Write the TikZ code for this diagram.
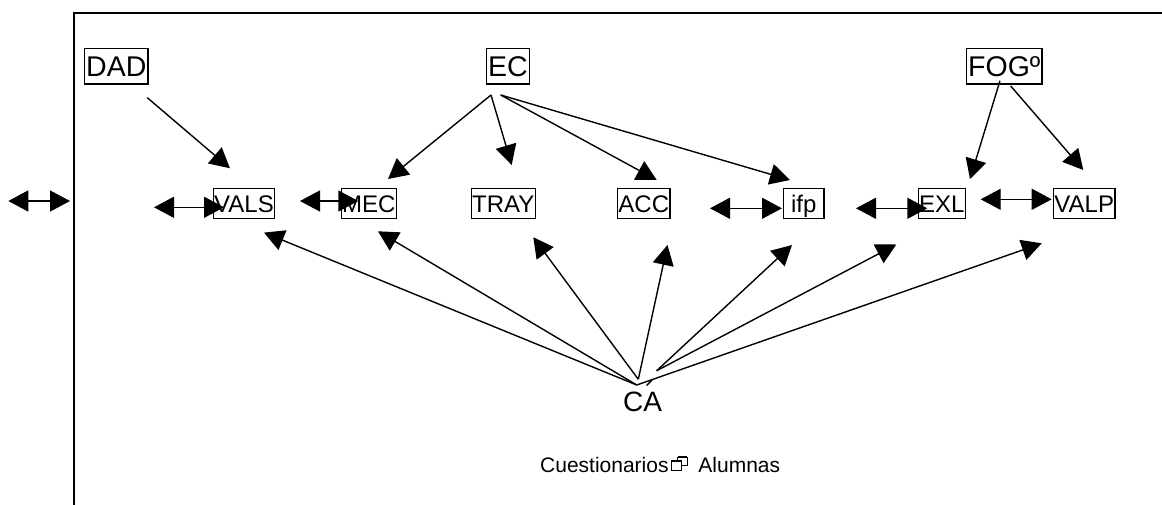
\documentclass[tikz,border=0pt]{standalone}
\usepackage{fontspec}
\setmainfont{Liberation Sans}
\usetikzlibrary{arrows.meta}
\begin{document}
\begin{tikzpicture}[x=1pt,y=-1pt,
  big/.style={draw, line width=1.4pt, font=\fontsize{28.5}{30}\selectfont, inner xsep=1.8pt, inner ysep=0pt, text height=28pt, text depth=7.3pt, anchor=base},
  mid/.style={draw, line width=1.4pt, font=\fontsize{24}{26}\selectfont, inner xsep=0.8pt, inner ysep=0pt, text height=23.6pt, text depth=6pt, anchor=base},
  plain/.style={font=\fontsize{28}{30}\selectfont, inner sep=0pt, anchor=base},
  note/.style={font=\fontsize{21}{23}\selectfont, inner sep=0pt, anchor=base west},
  arr/.style={line width=1.4pt, -{Triangle[length=20pt,width=21pt]}},
  darr/.style={line width=1.4pt, {Triangle[length=20pt,width=21pt]}-{Triangle[length=20pt,width=21pt]}},
  frame/.style={line width=1.6pt}
]
\useasboundingbox (0,0) rectangle (1162,505);
% frame
\coordinate (fr1) at (1162,13.3);
\coordinate (fr2) at (74,13.3);
\coordinate (fr3) at (74,505);
\draw[frame] (fr1) -- (fr2) -- (fr3);

% nodes
\node[big] (DAD) at (116.3,76.7) {DAD};
\node[big] (EC) at (508,76.7) {EC};
\node[big] (FOG) at (1004.3,76.7) {FOGº};
\node[mid] (VALS) at (244,212.3) {VALS};
\node[mid] (MEC) at (368.8,212.3) {MEC};
\node[mid] (TRAY) at (503.3,212.3) {TRAY};
\node[mid] (ACC) at (643.8,212.3) {ACC};
\node[mid, minimum width=40.7pt] (IFP) at (803.7,212.3) {ifp};
\node[mid] (EXL) at (941.8,212.3) {EXL};
\node[mid] (VALP) at (1084.2,212.3) {VALP};
\node[plain] (CA) at (642.5,411.7) {CA};
\node[note] (CUE) at (540,472.7) {Cuestionarios\hspace{29.9pt}Alumnas};

% symbol between Cuestionarios and Alumnas
\draw[line width=0.6pt] (677.7,456.8) rectangle (687.3,465);
\fill (677.7,456.2) rectangle (687.3,458);
\fill[white] (671.7,460) rectangle (681.7,470);
\draw[line width=0.6pt] (671.7,460.5) rectangle (681.7,470);
\fill (671.7,460) rectangle (681.7,461.8);

% coordinates of connector ends
\coordinate (dadS) at (147.3,97.7);   \coordinate (dadT) at (230,168.3);
\coordinate (ecS1) at (491,95);       \coordinate (ecS2) at (500.7,95);
\coordinate (mecT) at (388,179);      \coordinate (trayT) at (511.7,165);
\coordinate (accT) at (656.7,180);    \coordinate (ifpT) at (790,180);
\coordinate (fogS1) at (1000,80.7);   \coordinate (fogS2) at (1010.7,86);
\coordinate (exlT) at (970,179);      \coordinate (valpT) at (1083.3,170);
\coordinate (caS1) at (636.7,385);    \coordinate (caS2) at (638.3,379.3);
\coordinate (caS3) at (656.7,370.7);
\coordinate (caVALS) at (264,232.6);  \coordinate (caMEC) at (378,231.3);
\coordinate (caTRAY) at (533.3,237.3);\coordinate (caACC) at (667.5,245);
\coordinate (caIFP) at (792,245);     \coordinate (caEXL) at (896.3,244.5);
\coordinate (caVALP) at (1041.7,243.3);
\coordinate (st1) at (646.7,385.5);   \coordinate (st2) at (652,380);
\coordinate (d1a) at (8.3,201);       \coordinate (d1b) at (70,201);
\coordinate (d2a) at (154,207.3);     \coordinate (d2b) at (224,207.3);
\coordinate (d3a) at (300,201);       \coordinate (d3b) at (358.3,201);
\coordinate (d4a) at (710,208.3);     \coordinate (d4b) at (782,208.3);
\coordinate (d5a) at (856,208.3);     \coordinate (d5b) at (927.3,208.3);
\coordinate (d6a) at (980.7,199.3);   \coordinate (d6b) at (1051.7,199.3);

% top arrows
\draw[arr] (dadS) -- (dadT);
\draw[arr] (ecS1) -- (mecT);
\draw[arr] (ecS1) -- (trayT);
\draw[arr] (ecS2) -- (accT);
\draw[arr] (ecS2) -- (ifpT);
\draw[arr] (fogS1) -- (exlT);
\draw[arr] (fogS2) -- (valpT);

% arrows from CA
\draw[arr] (caS1) -- (caVALS);
\draw[arr] (caS1) -- (caMEC);
\draw[arr] (caS2) -- (caTRAY);
\draw[arr] (caS2) -- (caACC);
\draw[arr] (caS3) -- (caIFP);
\draw[arr] (caS3) -- (caEXL);
\draw[arr] (caS1) -- (caVALP);
\draw[line width=1.4pt] (st1) -- (st2);

% double arrows
\draw[darr] (d1a) -- (d1b);
\draw[darr] (d2a) -- (d2b);
\draw[darr] (d3a) -- (d3b);
\draw[darr] (d4a) -- (d4b);
\draw[darr] (d5a) -- (d5b);
\draw[darr] (d6a) -- (d6b);
\end{tikzpicture}
\end{document}
